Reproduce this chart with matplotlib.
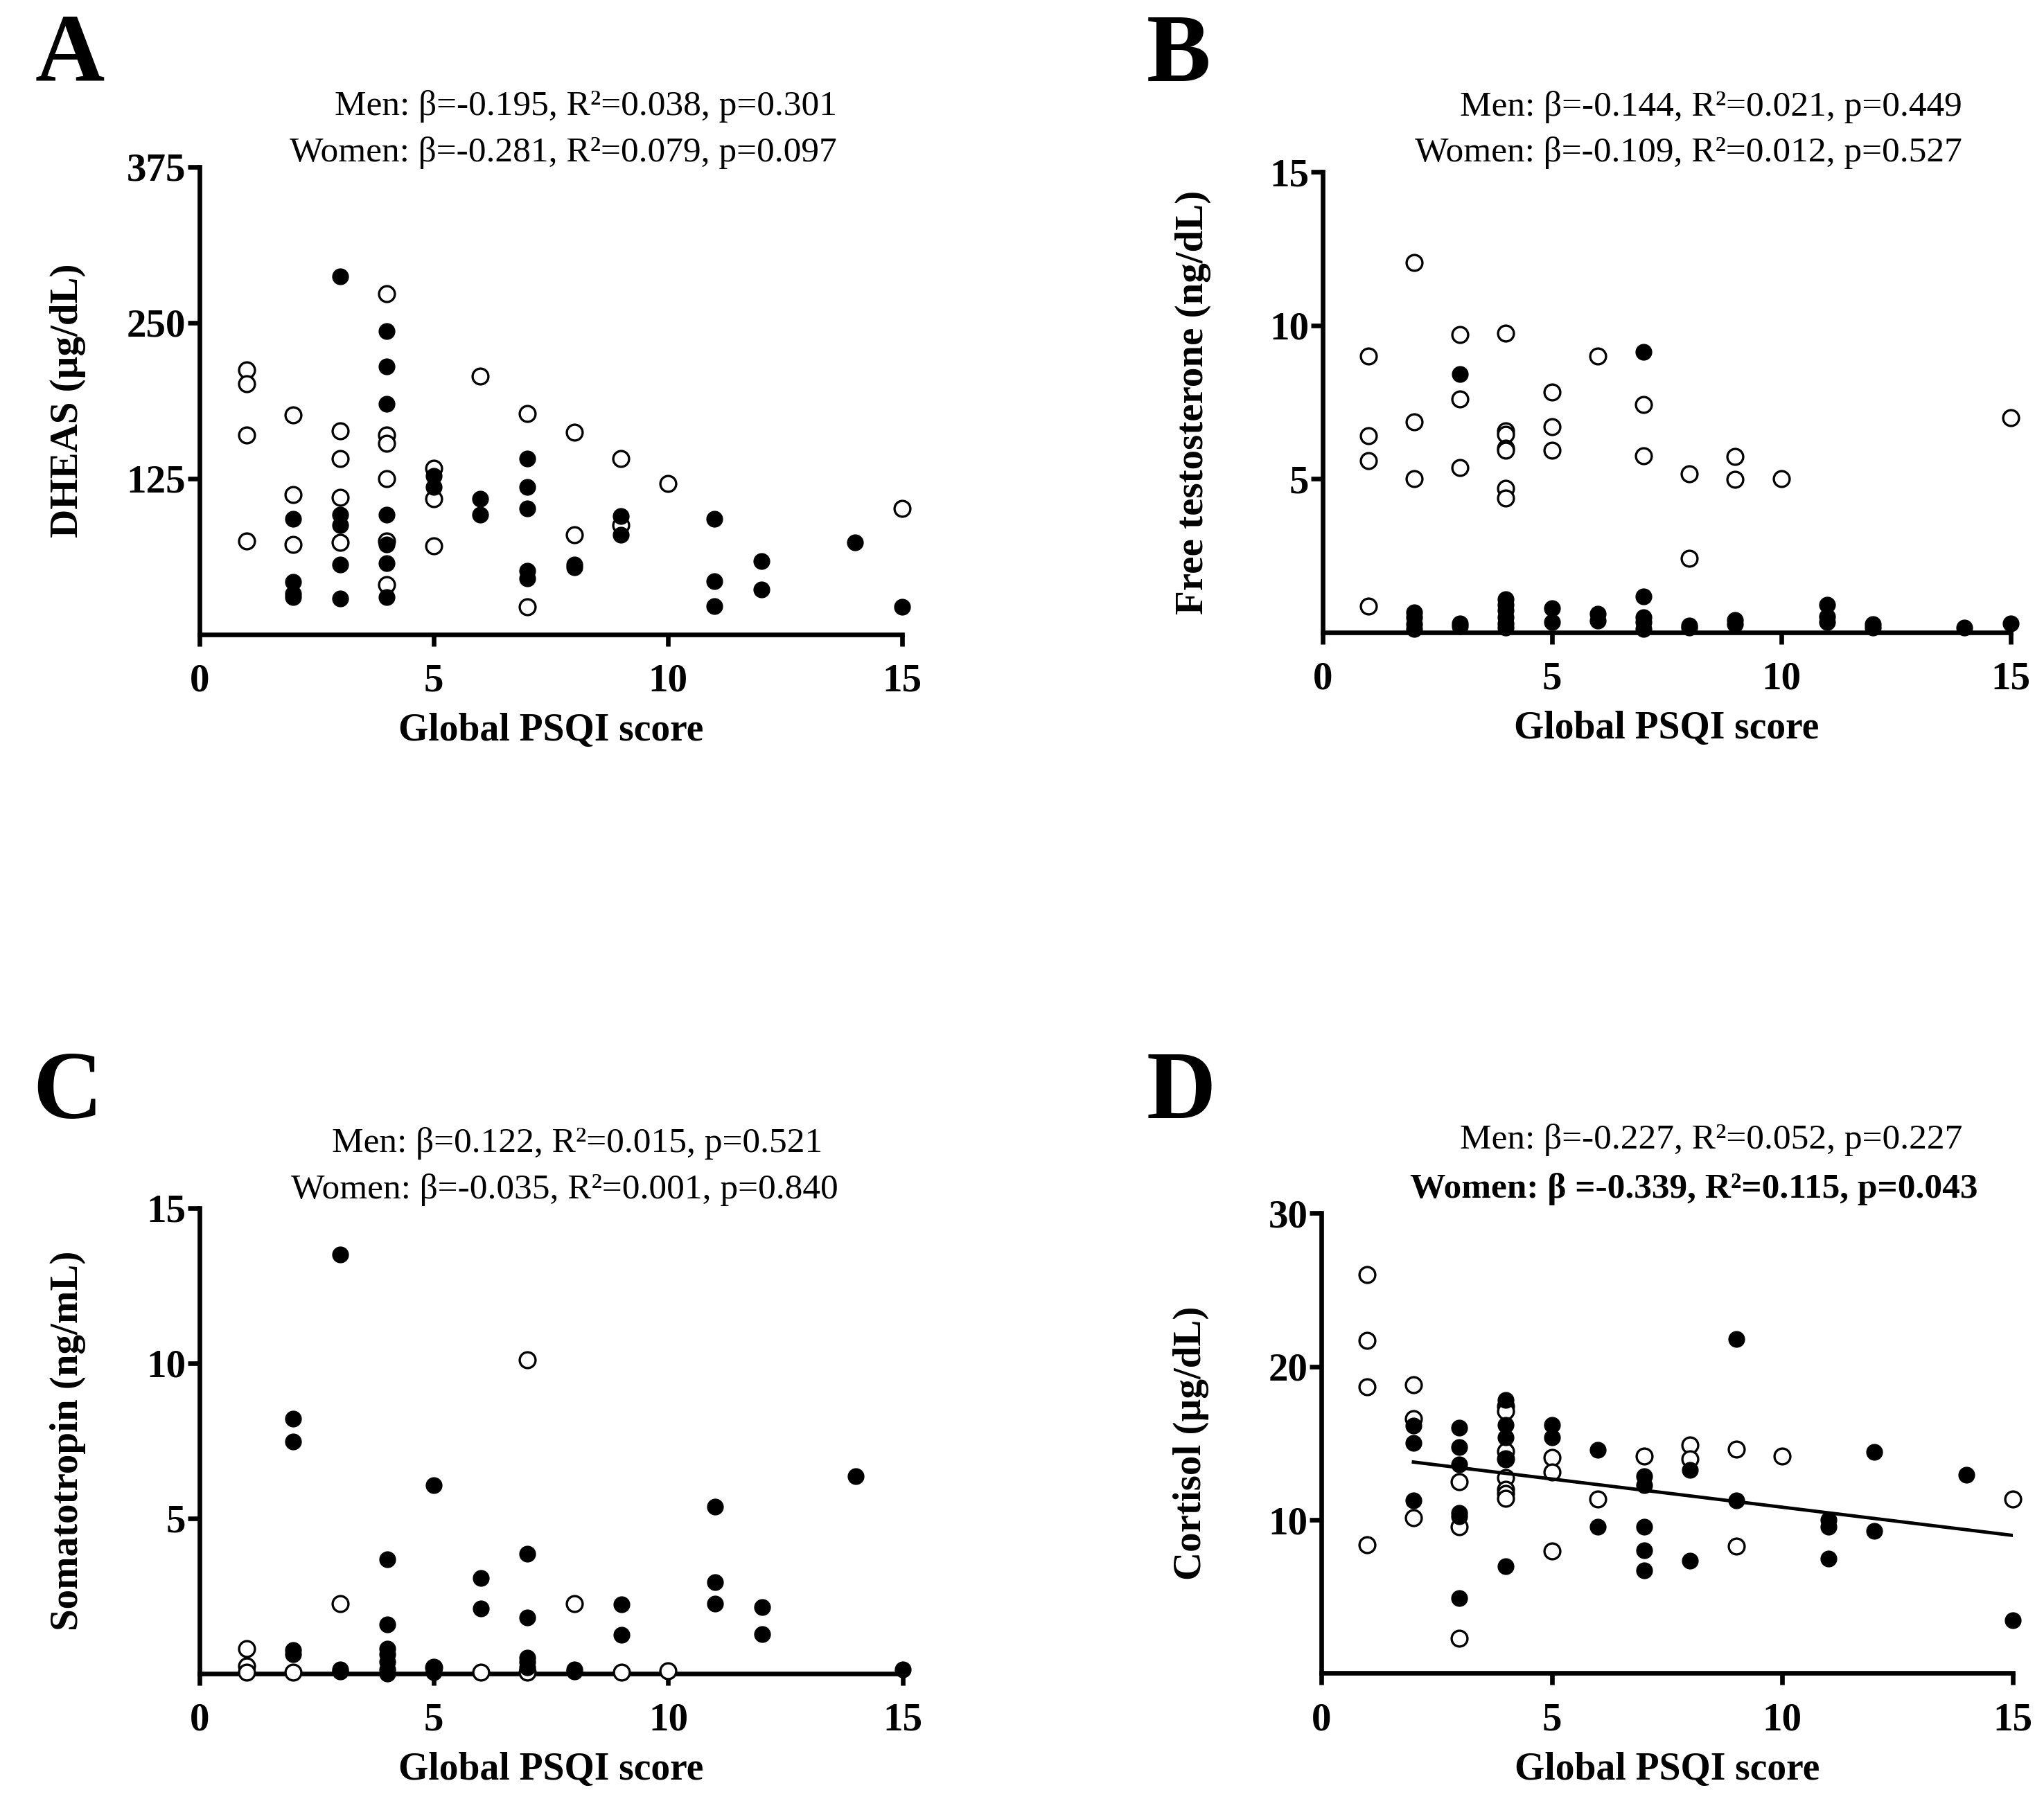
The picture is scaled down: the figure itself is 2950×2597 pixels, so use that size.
import numpy as np
import matplotlib
matplotlib.use("Agg")
import matplotlib.pyplot as plt

plt.rcParams['font.family'] = ['Liberation Serif', 'DejaVu Serif']

# x = Global PSQI score; men = open circles, women = filled circles
# A: DHEAS (ug/dL)
dheas_men_x = [1, 1, 1, 1, 2, 2, 2, 3, 3, 3, 3, 4, 4, 4, 4, 4, 4, 5, 5, 5, 6, 7, 7, 8, 8, 9, 9, 10, 15]
dheas_men_y = [212, 201, 160, 75, 176, 112, 72, 163, 141, 110, 74, 273, 160, 153, 125, 75, 40,
               133, 109, 71, 207, 177, 22, 162, 80, 141, 88, 121, 101]
dheas_women_x = [2, 2, 2, 2, 3, 3, 3, 3, 3, 4, 4, 4, 4, 4, 4, 4, 5, 5, 6, 6, 7, 7, 7, 7, 7,
                 8, 8, 9, 9, 11, 11, 11, 12, 12, 14, 15]
dheas_women_y = [93, 42, 33, 30, 287, 96, 88, 56, 29, 243, 215, 185, 96, 72, 57, 30, 127, 118,
                 109, 96, 141, 118, 101, 51, 45, 56, 54, 95, 80, 93, 43, 23, 59, 36, 74, 22]

# B: free testosterone (ng/dL)
ft_men_x = [1, 1, 1, 1, 2, 2, 2, 3, 3, 3, 4, 4, 4, 4, 4, 4, 4, 5, 5, 5, 6, 7, 7, 8, 8, 9, 9, 10, 15]
ft_men_y = [9.0, 6.4, 5.6, 0.86, 12.05, 6.85, 5.0, 9.7, 7.6, 5.37, 9.74, 6.57, 6.45, 6.0, 5.92,
            4.68, 4.38, 7.83, 6.7, 5.92, 9.0, 7.43, 5.75, 5.17, 2.4, 5.73, 4.98, 5.0, 7.0]
ft_women_x = [2, 2, 2, 2, 3, 3, 3, 4, 4, 4, 4, 4, 4, 5, 5, 6, 6, 7, 7, 7, 7, 7, 8, 8, 9, 9,
              11, 11, 11, 12, 12, 14, 15]
ft_women_y = [0.64, 0.49, 0.26, 0.11, 8.41, 0.3, 0.19, 1.09, 0.9, 0.71, 0.49, 0.3, 0.15,
              0.79, 0.34, 0.6, 0.37, 9.14, 1.18, 0.49, 0.34, 0.11, 0.22, 0.15, 0.41, 0.26,
              0.9, 0.52, 0.34, 0.26, 0.15, 0.15, 0.3]

# C: somatotropin (ng/mL)
gh_men_x = [1, 1, 1, 2, 3, 5, 6, 7, 7, 8, 9, 10]
gh_men_y = [0.81, 0.25, 0.05, 0.05, 2.25, 0.2, 0.05, 10.1, 0.05, 2.25, 0.05, 0.1]
gh_women_x = [2, 2, 2, 2, 3, 3, 3, 4, 4, 4, 4, 4, 4, 4, 5, 5, 5, 6, 6, 7, 7, 7, 7, 7,
              8, 8, 9, 9, 11, 11, 11, 12, 12, 14, 15]
gh_women_y = [8.21, 7.47, 0.75, 0.62, 13.5, 0.14, 0.06, 3.68, 1.59, 0.81, 0.62, 0.38, 0.14, 0.0,
              6.08, 0.19, 0.05, 3.07, 2.10, 3.87, 1.81, 0.51, 0.38, 0.19, 0.14, 0.06,
              2.24, 1.25, 5.37, 2.94, 2.25, 2.14, 1.27, 6.37, 0.14]

# D: cortisol (ug/dL)
cort_men_x = [1, 1, 1, 1, 2, 2, 2, 3, 3, 3, 4, 4, 4, 4, 4, 4, 4, 4, 5, 5, 5, 6, 7, 8, 8, 9, 9, 10, 15]
cort_men_y = [26.0, 21.7, 18.7, 8.4, 18.8, 16.6, 10.15, 12.5, 9.55, 2.3, 17.4, 17.1, 14.5, 14.0,
              12.75, 12.0, 11.7, 11.4, 14.07, 13.13, 7.97, 11.36, 14.14, 14.9, 14.0, 14.63, 8.27,
              14.14, 11.36]
cort_women_x = [2, 2, 2, 3, 3, 3, 3, 3, 3, 4, 4, 4, 4, 4, 5, 5, 6, 6, 7, 7, 7, 7, 7,
                8, 8, 9, 9, 11, 11, 11, 12, 12, 14, 15]
cort_women_y = [16.14, 15.0, 11.28, 16.03, 14.75, 13.6, 10.45, 10.23, 4.88, 17.83, 16.18, 15.4,
                14.0, 7.0, 16.18, 15.4, 14.56, 9.55, 12.83, 12.26, 9.55, 8.04, 6.72, 13.24, 7.36,
                21.8, 11.28, 10.0, 9.55, 7.47, 14.44, 9.28, 12.94, 3.45]
# women regression line (panel D)
cort_fit_range = [2, 15]
cort_fit_slope = -0.368
cort_fit_intercept = 14.51

x_ticks = [0, 5, 10, 15]

panels = [
    dict(letter='A', rect=[0.0976, 0.6473, 0.3437, 0.2600],
         mx=dheas_men_x, my=dheas_men_y, wx=dheas_women_x, wy=dheas_women_y,
         ylim=375, yticks=[125, 250, 375], ylabel='DHEAS (µg/dL)',
         men='Men: β=-0.195, R²=0.038, p=0.301',
         women='Women: β=-0.281, R²=0.079, p=0.097', bold=False,
         tpos=[(0.907, 1.129), (0.907, 1.030)], letter_xy=(0.017, 0.955)),
    dict(letter='B', rect=[0.6470, 0.6485, 0.3366, 0.2560],
         mx=ft_men_x, my=ft_men_y, wx=ft_women_x, wy=ft_women_y,
         ylim=15, yticks=[5, 10, 15], ylabel='Free testosterone (ng/dL)',
         men='Men: β=-0.144, R²=0.021, p=0.449',
         women='Women: β=-0.109, R²=0.012, p=0.527', bold=False,
         tpos=[(0.93, 1.141), (0.93, 1.041)], letter_xy=(0.561, 0.955)),
    dict(letter='C', rect=[0.0976, 0.0697, 0.3440, 0.2588],
         mx=gh_men_x, my=gh_men_y, wx=gh_women_x, wy=gh_women_y,
         ylim=15, yticks=[5, 10, 15], ylabel='Somatotropin (ng/mL)',
         men='Men: β=0.122, R²=0.015, p=0.521',
         women='Women: β=-0.035, R²=0.001, p=0.840', bold=False,
         tpos=[(0.886, 1.139), (0.908, 1.039)], letter_xy=(0.016, 0.3785)),
    dict(letter='D', rect=[0.6464, 0.0699, 0.3383, 0.2557],
         mx=cort_men_x, my=cort_men_y, wx=cort_women_x, wy=cort_women_y,
         ylim=30, yticks=[10, 20, 30], ylabel='Cortisol (µg/dL)',
         men='Men: β=-0.227, R²=0.052, p=0.227',
         women='Women: β =-0.339, R²=0.115, p=0.043', bold=True,
         tpos=[(0.927, 1.16), (0.95, 1.053)], letter_xy=(0.561, 0.3785)),
]

fig = plt.figure(figsize=(29.5, 25.97), dpi=100)

for p in panels:
    ax = fig.add_axes(p['rect'])
    ax.scatter(p['mx'], p['my'], s=270, facecolors='white', edgecolors='black',
               linewidths=2.4, zorder=3, clip_on=False)
    ax.scatter(p['wx'], p['wy'], s=270, color='black', zorder=4, clip_on=False)
    if p['letter'] == 'D':
        fx = np.array(cort_fit_range)
        ax.plot(fx, cort_fit_intercept + cort_fit_slope * fx, color='black', lw=3.5, zorder=5)

    ax.set_xlim(0, 15)
    ax.set_ylim(0, p['ylim'])
    ax.set_xticks(x_ticks)
    ax.set_yticks(p['yticks'])
    for s in ['top', 'right']:
        ax.spines[s].set_visible(False)
    for s in ['left', 'bottom']:
        ax.spines[s].set_linewidth(4.8)
    ax.tick_params(axis='both', length=12, width=4.8, labelsize=41)
    ax.tick_params(axis='x', pad=18)
    ax.tick_params(axis='y', pad=2)
    for lab in ax.get_xticklabels() + ax.get_yticklabels():
        lab.set_fontweight('bold')

    ax.set_xlabel('Global PSQI score', fontsize=40, fontweight='bold', labelpad=14)
    ax.set_ylabel(p['ylabel'], fontsize=41, fontweight='bold')
    ax.yaxis.set_label_coords(-0.162, 0.5)

    ax.text(p['tpos'][0][0], p['tpos'][0][1], p['men'], transform=ax.transAxes,
            ha='right', va='center', fontsize=37)
    ax.text(p['tpos'][1][0], p['tpos'][1][1], p['women'], transform=ax.transAxes,
            ha='right', va='center', fontsize=37,
            fontweight='bold' if p['bold'] else 'normal')

    fig.text(p['letter_xy'][0], p['letter_xy'][1], p['letter'], fontsize=100,
             fontweight='bold', ha='left', va='baseline')

fig.savefig('out.png', dpi=100)
